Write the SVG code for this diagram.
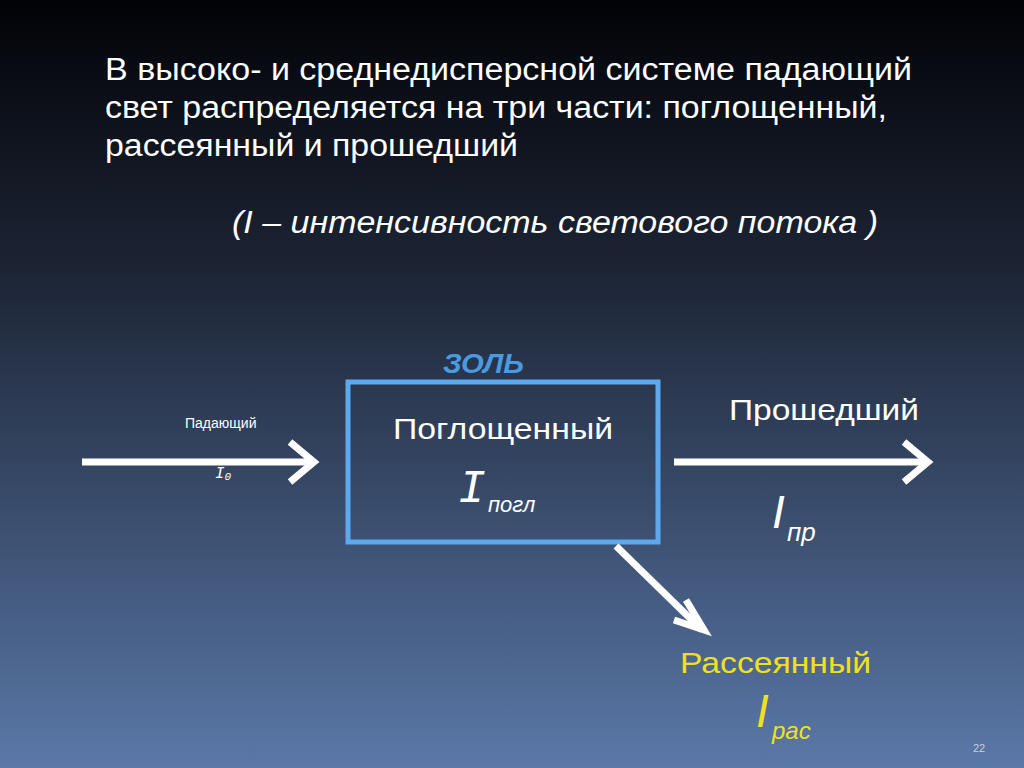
<svg xmlns="http://www.w3.org/2000/svg" width="1024" height="768" viewBox="0 0 1024 768">
<defs>
<linearGradient id="bg" x1="0" y1="0" x2="0" y2="1">
<stop offset="0" stop-color="#020307"/>
<stop offset="0.35" stop-color="#1c2434"/>
<stop offset="1" stop-color="#5a78a8"/>
</linearGradient>
<style>
text{font-family:"Liberation Sans",Arial,sans-serif;fill:#fff}
.arr{stroke:#fff;stroke-width:7;fill:none}
.mono{font-family:"Liberation Mono","Courier New",monospace}
.y{fill:#f0e020}
</style>
</defs>
<rect width="1024" height="768" fill="url(#bg)"/>
<text x="105" y="80" font-size="31" textLength="807" lengthAdjust="spacingAndGlyphs">В высоко- и среднедисперсной системе падающий</text>
<text x="105" y="118" font-size="31" textLength="782" lengthAdjust="spacingAndGlyphs">свет распределяется на три части: поглощенный,</text>
<text x="105" y="156" font-size="31" textLength="413" lengthAdjust="spacingAndGlyphs">рассеянный и прошедший</text>
<text x="232" y="233" font-size="31" font-style="italic" textLength="646" lengthAdjust="spacingAndGlyphs">(I – интенсивность светового потока )</text>
<g id="sol">
<rect x="348" y="382" width="310" height="160" fill="none" stroke="#5ea8ee" stroke-width="5"/>
<text x="443" y="373" font-size="28" font-style="italic" font-weight="bold" style="fill:#4a9ae0" textLength="81" lengthAdjust="spacingAndGlyphs">ЗОЛЬ</text>
<text x="393" y="439" font-size="30" textLength="220" lengthAdjust="spacingAndGlyphs">Поглощенный</text>
<text x="458" y="502" font-size="46" font-style="italic" class="mono">I</text>
<text x="488" y="512" font-size="22" font-style="italic">погл</text>
</g>
<g id="incident">
<text x="185" y="428" font-size="14">Падающий</text>
<text x="215" y="478" font-size="16" font-style="italic" class="mono">I<tspan font-size="11" dy="2">0</tspan></text>
</g>
<g id="transmitted">
<text x="729" y="420" font-size="30" textLength="190" lengthAdjust="spacingAndGlyphs">Прошедший</text>
<text x="772" y="528" font-size="46" font-style="italic">I</text>
<text x="787" y="541" font-size="26" font-style="italic">пр</text>
</g>
<g id="scattered">
<text x="680" y="673" font-size="29" class="y" textLength="191" lengthAdjust="spacingAndGlyphs">Рассеянный</text>
<text x="756" y="727" font-size="46" font-style="italic" class="y">I</text>
<text x="772" y="739" font-size="24" font-style="italic" class="y">рас</text>
</g>
<g id="connectors">
<line class="arr" x1="82" y1="462" x2="312" y2="462"/>
<polyline class="arr" points="290,442 314,462 290,482"/>
<line class="arr" x1="674" y1="462" x2="926" y2="462"/>
<polyline class="arr" points="904,442 928,462 904,482"/>
<line class="arr" x1="616" y1="546" x2="702" y2="630"/>
<polyline class="arr" points="686,600 704,630 674,620"/>
</g>
<text x="973" y="752" font-size="11" style="fill:#ccd">22</text>
</svg>
